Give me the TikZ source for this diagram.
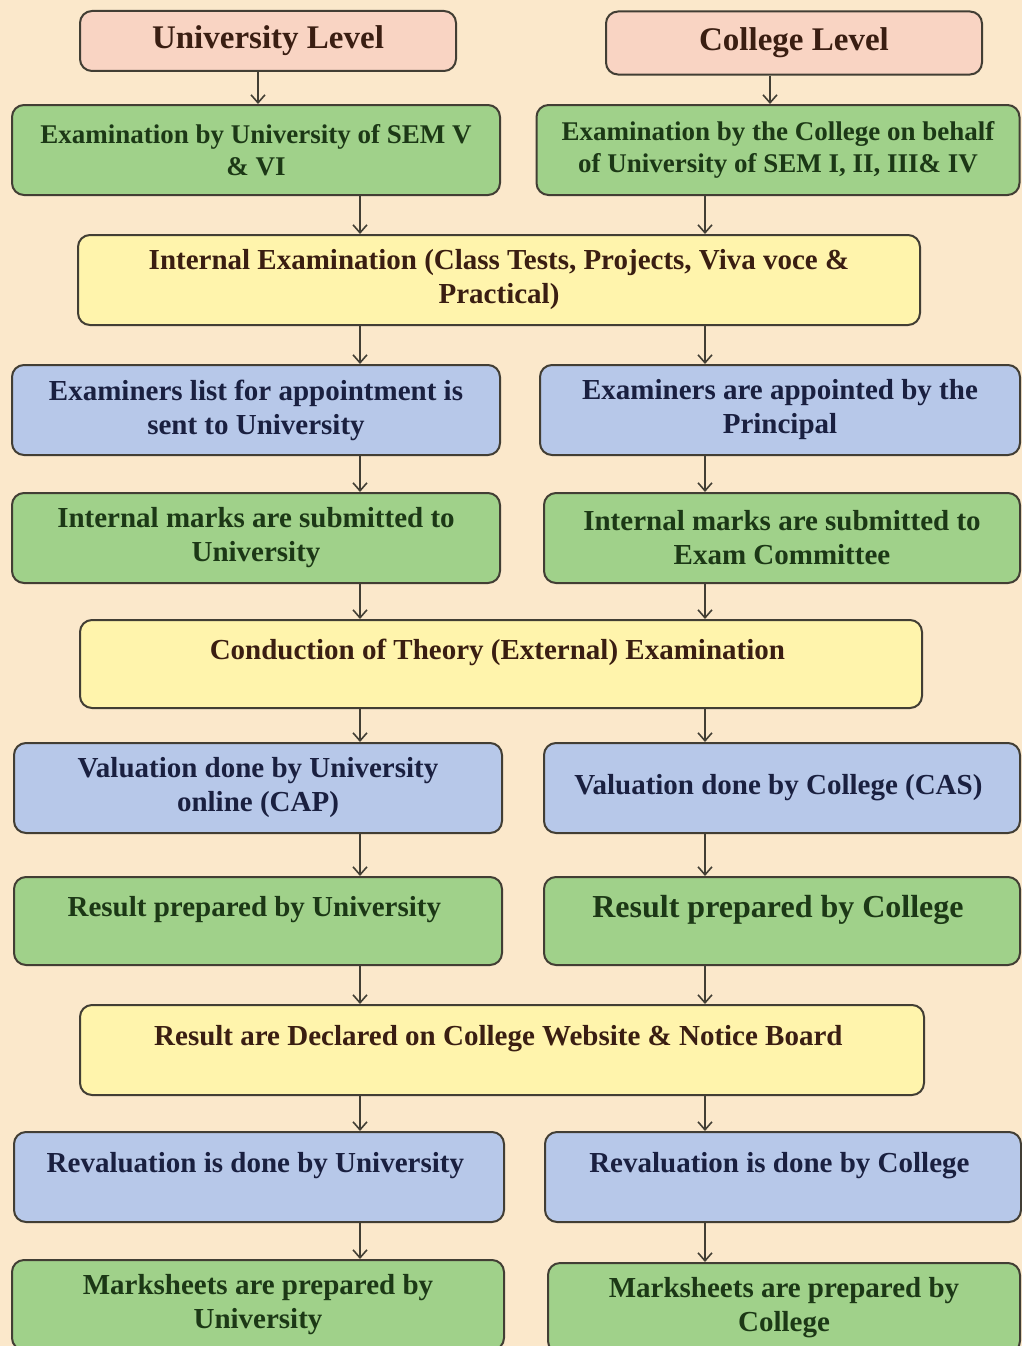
\documentclass[tikz,border=0pt]{standalone}
\usepackage{fontspec}
\setmainfont{Liberation Serif}
\usetikzlibrary{arrows.meta, positioning, calc}
\definecolor{pagecream}{RGB}{251, 232, 203}
\definecolor{levelpink}{RGB}{249, 212, 195}
\definecolor{stepgreen}{RGB}{160, 209, 138}
\definecolor{stepblue}{RGB}{183, 200, 233}
\definecolor{stepyellow}{RGB}{255, 244, 172}
\definecolor{edgegray}{RGB}{66, 62, 52}
\definecolor{textbrown}{RGB}{58, 30, 18}
\definecolor{textgreen}{RGB}{28, 56, 22}
\definecolor{textnavy}{RGB}{26, 32, 64}

\begin{document}
\begin{tikzpicture}[
        x=1pt, y=-1pt,
        % --- TikZ Styles ---
        basebox/.style={
            draw=edgegray, line width=2pt, rounded corners=12pt,
            minimum width=488pt, minimum height=90pt, align=center,
            font=\bfseries\fontsize{29}{34}\selectfont, inner sep=4pt
        },
        levelbox/.style={basebox, fill=levelpink, text=textbrown,
            minimum width=376pt, minimum height=60pt,
            font=\bfseries\fontsize{33}{38}\selectfont},
        greenbox/.style={basebox, fill=stepgreen, text=textgreen},
        bluebox/.style={basebox, fill=stepblue, text=textnavy},
        yellowbox/.style={basebox, fill=stepyellow, text=textbrown, minimum width=842pt},
        rightbox/.style={minimum width=476pt},
        raised/.style={text depth=30pt},
        arrow/.style={line width=1.6pt, draw=edgegray,
            -{Straight Barb[length=8pt, width=14pt, line width=1.6pt]}}
    ]

    % --- PAGE ---
    \useasboundingbox (0,0) rectangle (1022,1346);
    \clip (0,0) rectangle (1022,1346);
    \fill[pagecream] (0,0) rectangle (1022,1346);

    % --- 1. LEVELS ---
    \node[levelbox] (uni) at (268,41) {University Level};
    \node[levelbox, minimum height=63pt] (coll) at (794,43) {College Level};

    % --- 2. SEMESTER EXAMS ---
    \node[greenbox, font=\bfseries\fontsize{27}{32}\selectfont] (exU) at (256,150) {
        Examination by University of SEM V\\ \& VI
    };
    \node[greenbox, minimum width=483pt, font=\bfseries\fontsize{27}{32}\selectfont] (exC) at (778,150) {
        Examination by the College on behalf\\ of University of SEM I, II, III\& IV
    };

    % --- 3. INTERNAL ---
    \node[yellowbox] (intexam) at (499,280) {
        Internal Examination (Class Tests, Projects, Viva voce \&\\ Practical)
    };

    \node[bluebox] (examU) at (256,410) {
        Examiners list for appointment is\\ sent to University
    };
    \node[bluebox, minimum width=480pt] (examC) at (780,410) {
        Examiners are appointed by the\\ Principal
    };

    \node[greenbox] (marksU) at (256,538) {
        Internal marks are submitted to\\ University
    };
    \node[greenbox, rightbox] (marksC) at (782,538) {
        Internal marks are submitted to\\ Exam Committee
    };

    % --- 4. EXTERNAL ---
    \node[yellowbox, minimum height=88pt, raised] (theory) at (501,664) {
        Conduction of Theory (External) Examination
    };

    \node[bluebox] (valU) at (258,788) {
        Valuation done by University\\ online (CAP)
    };
    \node[bluebox, rightbox] (valC) at (782,788) {
        Valuation done by College (CAS)
    };

    \node[greenbox, minimum height=88pt, raised] (resU) at (258,921) {
        Result prepared by University
    };
    \node[greenbox, rightbox, minimum height=88pt, raised,
        font=\bfseries\fontsize{32}{36}\selectfont] (resC) at (782,921) {
        Result prepared by College
    };

    % --- 5. RESULTS ---
    \node[yellowbox, minimum width=844pt, raised] (declare) at (502,1050) {
        Result are Declared on College Website \& Notice Board
    };

    \node[bluebox, minimum width=490pt, raised] (revalU) at (259,1177) {
        Revaluation is done by University
    };
    \node[bluebox, rightbox, raised] (revalC) at (783,1177) {
        Revaluation is done by College
    };

    \node[greenbox, minimum width=492pt] (sheetU) at (258,1305) {
        Marksheets are prepared by\\ University
    };
    \node[greenbox, minimum width=472pt] (sheetC) at (784,1308) {
        Marksheets are prepared by\\ College
    };

% --- CONNECTIONS ---
    \coordinate (ucol) at (258,0);
    \coordinate (ccol) at (770,0);
    \coordinate (lcol) at (360,0);
    \coordinate (rcol) at (705,0);

    % 1. Levels to semester exams
    \draw[arrow] (uni.south -| ucol) -- (exU.north -| ucol);
    \draw[arrow] (coll.south -| ccol) -- (exC.north -| ccol);

    % 2. Left column (University)
    \draw[arrow] (exU.south -| lcol) -- (intexam.north -| lcol);
    \draw[arrow] (intexam.south -| lcol) -- (examU.north -| lcol);
    \draw[arrow] (examU.south -| lcol) -- (marksU.north -| lcol);
    \draw[arrow] (marksU.south -| lcol) -- (theory.north -| lcol);
    \draw[arrow] (theory.south -| lcol) -- (valU.north -| lcol);
    \draw[arrow] (valU.south -| lcol) -- (resU.north -| lcol);
    \draw[arrow] (resU.south -| lcol) -- (declare.north -| lcol);
    \draw[arrow] (declare.south -| lcol) -- (revalU.north -| lcol);
    \draw[arrow] (revalU.south -| lcol) -- (sheetU.north -| lcol);

    % 3. Right column (College)
    \draw[arrow] (exC.south -| rcol) -- (intexam.north -| rcol);
    \draw[arrow] (intexam.south -| rcol) -- (examC.north -| rcol);
    \draw[arrow] (examC.south -| rcol) -- (marksC.north -| rcol);
    \draw[arrow] (marksC.south -| rcol) -- (theory.north -| rcol);
    \draw[arrow] (theory.south -| rcol) -- (valC.north -| rcol);
    \draw[arrow] (valC.south -| rcol) -- (resC.north -| rcol);
    \draw[arrow] (resC.south -| rcol) -- (declare.north -| rcol);
    \draw[arrow] (declare.south -| rcol) -- (revalC.north -| rcol);
    \draw[arrow] (revalC.south -| rcol) -- (sheetC.north -| rcol);

\end{tikzpicture}
\end{document}
